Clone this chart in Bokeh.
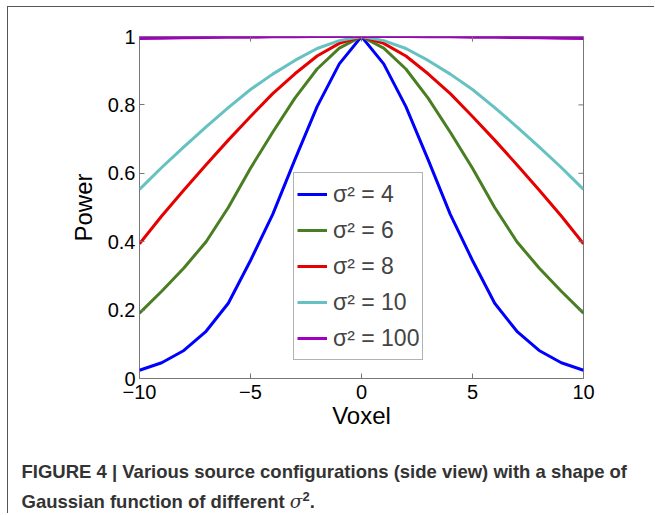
from bokeh.plotting import figure
from bokeh.models import Range1d, FixedTicker, Div
from bokeh.layouts import column
from bokeh.embed import file_html
from bokeh.resources import INLINE

# ---- data ----
voxel = [-10, -9, -8, -7, -6, -5, -4, -3, -2, -1, 0, 1, 2, 3, 4, 5, 6, 7, 8, 9, 10]
power_s4 = [0.024, 0.046, 0.082, 0.138, 0.22, 0.345, 0.48, 0.64, 0.795, 0.92, 1.0,
            0.92, 0.795, 0.64, 0.48, 0.345, 0.22, 0.138, 0.082, 0.046, 0.024]
power_s6 = [0.191, 0.255, 0.323, 0.40, 0.50, 0.615, 0.72, 0.82, 0.905, 0.966, 1.0,
            0.966, 0.905, 0.82, 0.72, 0.615, 0.50, 0.40, 0.323, 0.255, 0.191]
power_s8 = [0.394, 0.475, 0.551, 0.625, 0.697, 0.766, 0.833, 0.891, 0.943, 0.98, 1.0,
            0.98, 0.943, 0.891, 0.833, 0.766, 0.697, 0.625, 0.551, 0.475, 0.394]
power_s10 = [0.553, 0.617, 0.677, 0.736, 0.792, 0.845, 0.89, 0.93, 0.965, 0.988, 1.0,
             0.988, 0.965, 0.93, 0.89, 0.845, 0.792, 0.736, 0.677, 0.617, 0.553]
power_s100 = [0.994, 0.995, 0.996, 0.997, 0.998, 0.998, 0.999, 0.999, 1.0, 1.0, 1.0,
              1.0, 1.0, 0.999, 0.999, 0.998, 0.998, 0.997, 0.996, 0.995, 0.994]
series_labels = ["σ² = 4", "σ² = 6", "σ² = 8", "σ² = 10", "σ² = 100"]
series_colors = ["#0000FF", "#4A7E23", "#E60000", "#66C2C2", "#A000C0"]
x_ticks = [-10, -5, 0, 5, 10]
x_tick_labels = ["−10", "−5", "0", "5", "10"]
y_ticks = [0, 0.2, 0.4, 0.6, 0.8, 1]
y_tick_labels = ["0", "0.2", "0.4", "0.6", "0.8", "1"]
caption_1 = "FIGURE 4 | Various source configurations (side view) with a shape of"
caption_2 = "Gaussian function of different <i style='font-family:\"DejaVu Serif\";font-weight:normal'>σ</i><sup style='font-size:13px'>2</sup>."

FONT = "Liberation Sans"
AXC = "#777777"
BORDER = "1.5px solid #555555"

p = figure(width=647, height=431, output_backend="svg", toolbar_location=None,
           x_range=Range1d(-10, 10), y_range=Range1d(0, 1),
           min_border_left=131, min_border_right=72, min_border_top=29,
           min_border_bottom=60,
           margin=(6, 0, 0, 7),
           styles={"border-top": BORDER, "border-left": BORDER})
p.background_fill_color = "white"
p.border_fill_color = "white"
p.outline_line_color = AXC
p.outline_line_width = 1
p.xgrid.visible = False
p.ygrid.visible = False

all_series = [power_s4, power_s6, power_s8, power_s10, power_s100]
for ys, lab, col in zip(all_series, series_labels, series_colors):
    p.line(voxel, ys, line_color=col, line_width=3, legend_label=lab)

# inward ticks on the top and right edges of the box (from the tick lists)
top_x = [t for t in x_ticks if -10 < t < 10]
p.segment(x0=top_x, y0=[1] * len(top_x), x1=top_x, y1=[0.985] * len(top_x),
          line_color=AXC, line_width=1)
right_y = [t for t in y_ticks if 0 < t < 1]
p.segment(x0=[10] * len(right_y), y0=right_y, x1=[9.77] * len(right_y), y1=right_y,
          line_color=AXC, line_width=1)

def style_axis(ax, ticks, labels):
    ax.ticker = FixedTicker(ticks=ticks)
    ax.major_label_overrides = {t: l for t, l in zip(ticks, labels)}
    ax.axis_line_color = None
    ax.major_tick_line_color = AXC
    ax.major_tick_in = 5
    ax.major_tick_out = 0
    ax.minor_tick_line_color = None
    ax.major_label_text_font = FONT
    ax.major_label_text_color = "black"
    ax.major_label_text_font_size = "20px"
    ax.axis_label_text_font = FONT
    ax.axis_label_text_font_size = "24px"
    ax.axis_label_text_font_style = "normal"
    ax.axis_label_text_color = "black"

xa = p.xaxis[0]
style_axis(xa, x_ticks, x_tick_labels)
xa.major_label_standoff = 6
xa.axis_label = "Voxel"
xa.axis_label_standoff = 0

ya = p.yaxis[0]
style_axis(ya, y_ticks, y_tick_labels)
ya.major_label_standoff = 4
ya.axis_label = "Power"
ya.axis_label_standoff = 8

lg = p.legend[0]
lg.location = (154, 18)
lg.border_line_color = "#666666"
lg.border_line_width = 1
lg.background_fill_color = "white"
lg.background_fill_alpha = 1
lg.label_text_font = FONT
lg.label_text_font_size = "23px"
lg.glyph_width = 30
lg.glyph_height = 36
lg.label_height = 36
lg.label_standoff = 6
lg.spacing = 0
lg.padding = 3
lg.margin = 0

# caption below the chart
cap_html = ("<div style=\"font-family:'Liberation Sans';font-weight:bold;font-size:18.5px;"
            "line-height:25px;color:#333333;padding-left:13.5px;padding-top:22px;"
            "white-space:nowrap;margin:0\">" + caption_1 + "<br>" + caption_2 + "</div>")
cap = Div(text=cap_html, width=647, height=76, margin=(0, 0, 0, 7),
          styles={"border-left": BORDER})

layout = column(p, cap, spacing=0)
open("out.html", "w").write(file_html(layout, INLINE))
